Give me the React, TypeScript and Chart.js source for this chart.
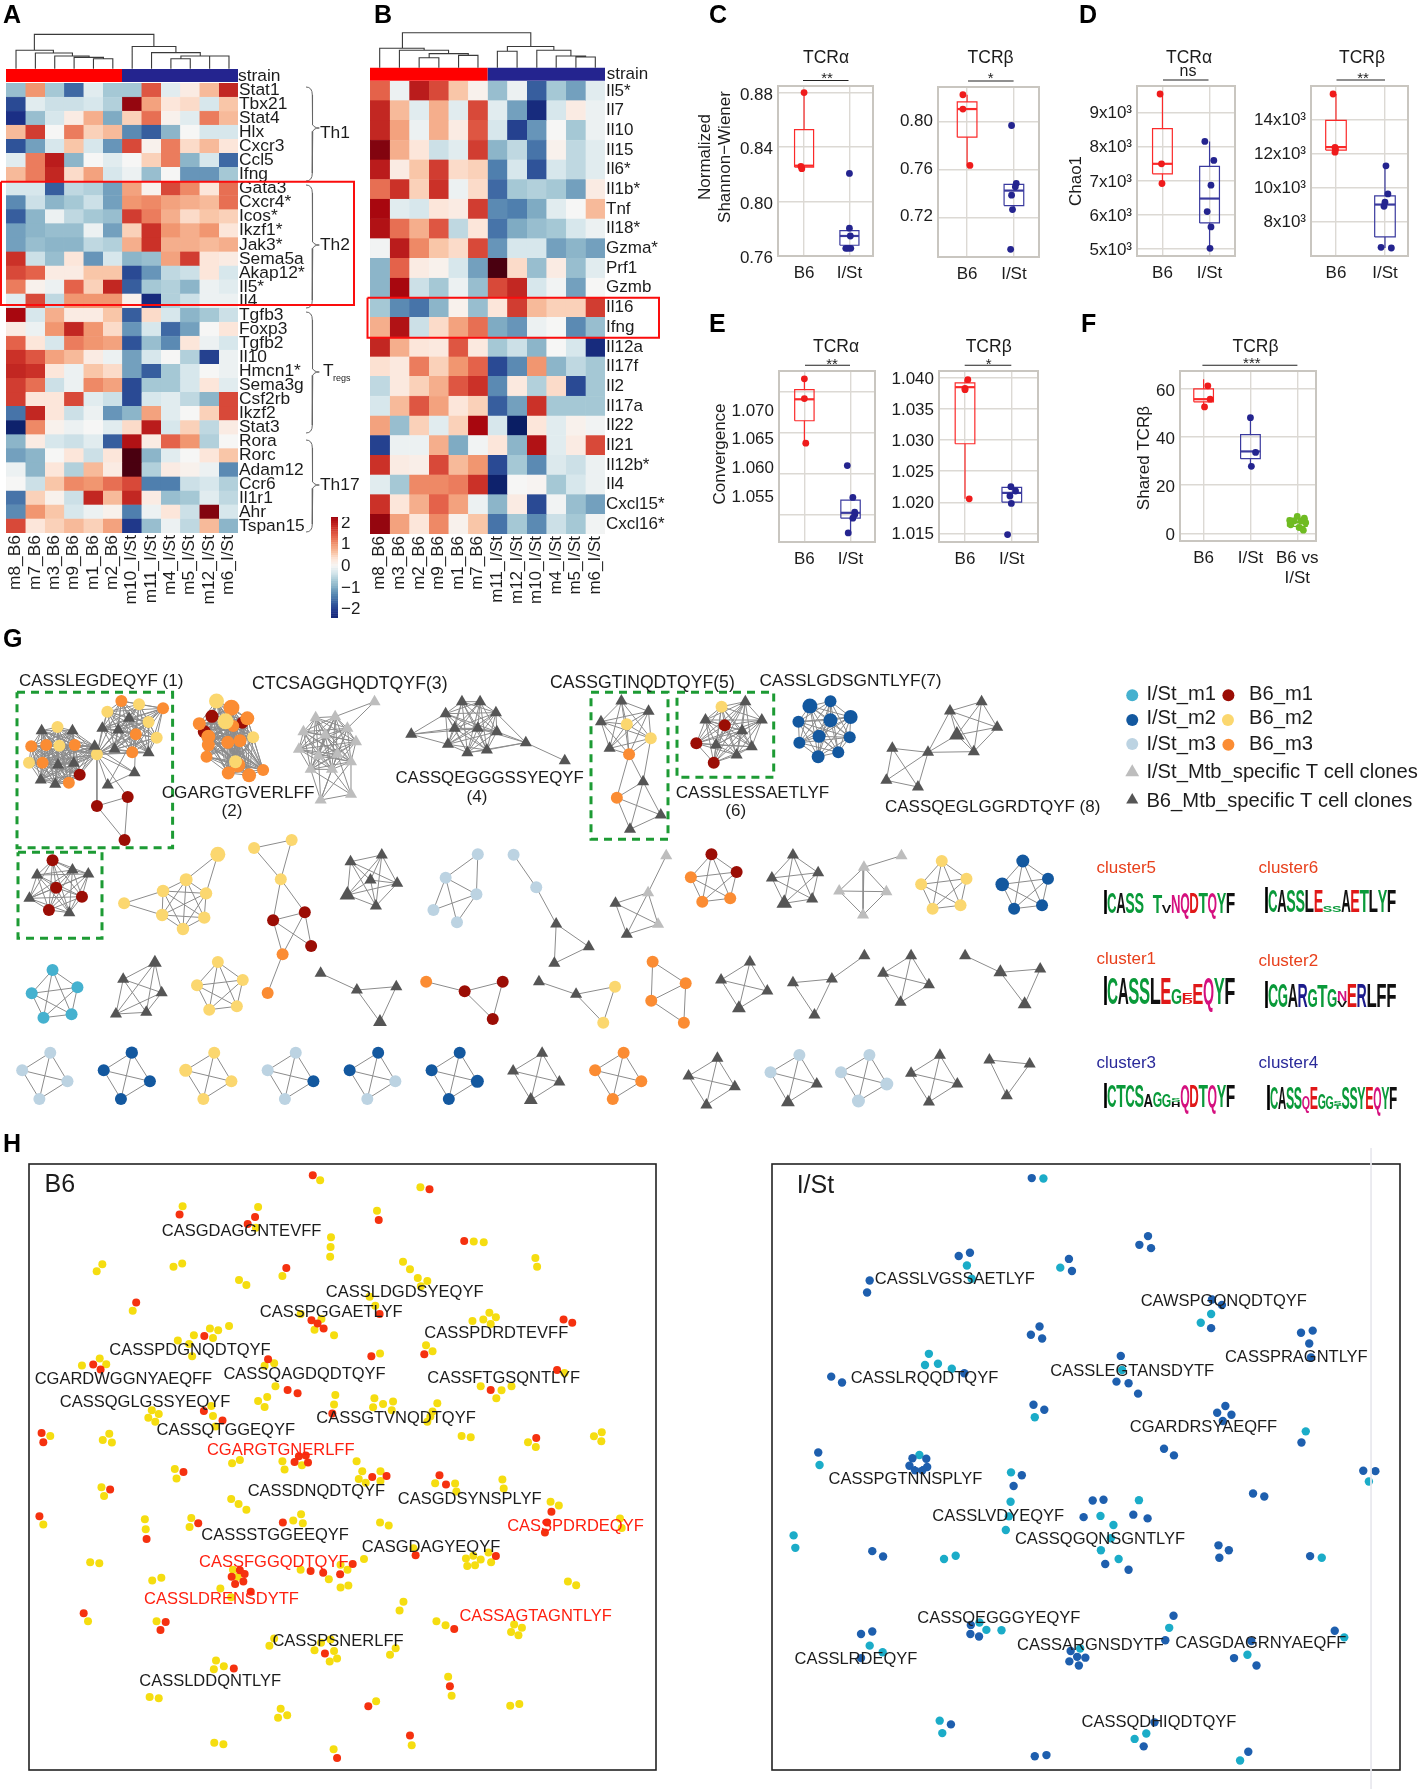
import React, { useEffect, useRef } from "react";
import { Chart, registerables } from "chart.js";
Chart.register(...registerables);

const FONT = '"Liberation Sans", Arial, sans-serif';
const INK = "#1c1c1c";

/* ---------- heatmaps ---------- */
const samplesA = ["m8_B6","m7_B6","m3_B6","m9_B6","m1_B6","m2_B6","m10_I/St","m11_I/St","m4_I/St","m5_I/St","m12_I/St","m6_I/St"];
const samplesB = ["m8_B6","m3_B6","m2_B6","m9_B6","m1_B6","m7_B6","m11_I/St","m12_I/St","m10_I/St","m4_I/St","m5_I/St","m6_I/St"];
const genesA = ["Stat1","Tbx21","Stat4","Hlx","Cxcr3","Ccl5","Ifng","Gata3","Cxcr4*","Icos*","Ikzf1*","Jak3*","Sema5a","Akap12*","Il5*","Il4","Tgfb3","Foxp3","Tgfb2","Il10","Hmcn1*","Sema3g","Csf2rb","Ikzf2","Stat3","Rora","Rorc","Adam12","Ccr6","Il1r1","Ahr","Tspan15"];
const genesB = ["Il5*","Il7","Il10","Il15","Il6*","Il1b*","Tnf","Il18*","Gzma*","Prf1","Gzmb","Il16","Ifng","Il12a","Il17f","Il2","Il17a","Il22","Il21","Il12b*","Il4","Cxcl15*","Cxcl16*"];
const rowsA = [
[-0.8,1.0,-0.7,-1.6,-0.2,-0.7,-0.7,1.5,-0.2,0.2,0.7,1.9],
[-1.9,-0.2,-0.4,-0.4,-0.3,-0.6,2.3,0.9,0.3,0.4,-0.3,0.6],
[-2.2,-0.8,-0.3,0.2,0.8,-1.0,0.5,1.3,0.1,-0.2,1.2,0.7],
[0.7,1.7,0.0,1.2,0.5,0.7,-1.3,-1.7,-0.9,0,-0.3,-0.3],
[-1.8,-1.1,-0.3,0.6,-0.3,-1.2,1.6,0.1,1.2,0.4,0.7,0.3],
[-0.2,1.2,2.0,-0.9,0,-0.2,0,0.5,1.2,-0.9,-0.3,-1.6],
[0.7,1.2,1.9,0.4,0.9,-0.3,-0.1,-0.8,0,-1.2,-1.2,-0.7],
[-0.3,-0.3,-1.7,-0.5,-0.6,-1.1,0.9,0.1,1.6,1.1,0.3,1.3],
[-1.3,-0.4,-0.9,-0.7,-0.4,-1.1,1.0,1.1,0.9,0.8,0.7,1.3],
[-1.7,-0.9,-0.1,-0.5,-0.7,-0.8,1.7,1.2,0.8,0.4,0.6,0.5],
[-1.1,-0.9,-0.8,-0.8,-0.1,-1.1,0.5,1.8,1.0,0.8,1.0,0.3],
[-1.1,-0.8,-0.9,-0.9,-0.5,-0.6,0.8,1.8,0.8,0.8,0.7,0.8],
[1.8,-0.4,-0.8,0.3,-1.2,-0.3,-0.9,-0.8,0.9,1.7,0.3,0.2],
[1.6,1.4,0.2,0.2,0.6,0.6,-1.9,-1.2,-0.5,-0.4,0.3,-0.3],
[1.2,0.1,-0.1,1.4,0.5,1.9,-1.7,-0.7,-0.6,-0.9,-0.1,-0.2],
[-0.2,1.6,-0.5,1.0,1.0,1.0,0.1,-2.3,-0.6,-0.4,-0.1,-0.1],
[2.2,-0.3,0.8,0.2,0.2,0.6,-1.7,0.4,-0.3,-0.9,-0.7,-0.4],
[0.2,-0.1,1.0,1.9,1.0,0.4,-1.2,-0.3,-1.6,-1.1,0,0.3],
[1.4,0.3,-0.3,1.2,1.0,0.9,-1.8,-0.8,-1.3,0.3,-0.1,-0.3],
[1.8,1.5,0.9,0.7,0.2,-0.1,-1.1,-0.3,0,-0.6,-2.0,-0.1],
[1.9,1.8,0.3,-0.1,0.6,0.4,-1.1,-1.7,-0.7,-0.3,0,-0.1],
[1.7,1.3,-0.4,-0.1,1.1,0.9,-1.9,-0.7,-0.7,-0.3,0.3,-0.2],
[1.7,0.3,0.3,1.6,-0.2,-0.4,-1.9,-0.3,-0.2,-0.5,-0.9,1.6],
[-1.5,1.9,0.3,-0.4,-0.1,-1.2,-0.9,0.9,-0.2,0,0.5,1.6],
[-2.5,1.1,0.1,-0.1,0,-0.2,0.4,2.0,-0.3,0.5,-0.5,0.2],
[-0.9,0.2,-0.3,-0.4,-0.2,-1.7,2.1,0.2,1.4,1.0,-0.6,0],
[-1.1,-0.9,0,0.3,-0.4,0.3,2.7,-0.9,-0.2,0,0.3,0.6],
[-0.1,-0.9,0.3,-0.6,0.7,0.2,2.7,-0.6,0.2,0.1,-0.1,-1.3],
[0,-0.4,0.6,1.1,1.0,1.3,1.6,-1.4,-1.4,-0.4,-0.3,-0.6],
[-1.5,0.5,0.1,-0.4,1.9,0.7,1.9,0.2,-0.8,-0.7,-0.2,-0.5],
[-1.3,1.0,0.6,-0.3,-0.1,0.1,-1.4,-0.1,0.3,-0.4,2.4,-0.3],
[1.6,0.3,0.5,0.7,0.5,0.9,-2.1,-0.8,-0.1,-0.5,0.7,-0.9],
];
const rowsB = [
[1.4,-0.1,2.0,1.6,0.6,0.1,-0.8,-0.1,-1.7,-0.7,-1.1,-0.2],
[1.9,0.7,-0.2,0.8,-0.2,1.6,-0.2,-1.1,-2.3,-0.3,0.2,-0.1],
[1.9,0.9,-0.1,0.8,0.2,1.5,-0.3,-2.0,-1.2,0,-0.7,-0.1],
[2.4,0.8,0.3,-0.4,-0.2,1.7,-0.9,-0.5,-1.5,0.1,-0.5,-0.2],
[2.0,0.2,0.6,1.7,0.4,0.5,-1.4,-0.3,-1.8,-0.3,-0.5,-0.2],
[1.3,1.8,0.5,1.8,-0.1,0.4,-1.6,-0.7,-0.6,-0.7,-1.1,0.2],
[2.2,-0.2,-0.3,0.3,0.2,1.7,-1.3,-1.4,-1.0,-0.2,0,0.7],
[2.1,1.3,0.8,1.5,-0.5,0.3,-1.5,-1,-0.8,-0.7,-0.3,-0.1],
[-0.05,2.0,1.1,0.6,0.4,1.6,-1.2,-0.3,-0.3,-1.1,-0.9,-1.1],
[-0.9,1.4,0.2,0.1,-0.3,-1.1,2.7,0.4,-0.8,0.2,-0.8,-0.2],
[-0.9,2.2,-0.4,-0.7,-0.1,-0.8,1.6,1.9,-0.3,-0.05,-1.1,0],
[-0.7,-1.3,-1.5,-0.9,0.1,-0.8,0.3,1.7,0.7,0.5,0.5,1.7],
[0.8,2.1,-0.4,0.4,0.9,1.3,-1.0,-1.2,-0.1,0,-1.3,-0.8],
[1.9,0.8,0.3,0.25,1.5,0.25,-0.7,-0.4,-0.9,0,-0.3,-2.3],
[0.35,0.25,1.2,0.5,1.0,1.4,-1.9,-1.3,1.0,-0.9,-0.5,-0.7],
[-0.5,0.25,0.5,0.8,1.5,1.8,-1.3,0.25,-0.6,0.4,-1.9,-0.7],
[-0.3,0.7,1.5,0.9,0.3,0.5,-1.7,-1.1,1.8,-0.7,-0.7,-0.7],
[0.9,-0.8,0.5,-0.2,0.5,2.2,-0.3,-2.6,0.3,-0.2,0.1,-0.05],
[-2.0,-0.1,-0.1,0.8,-1.0,-0.05,0.3,-0.9,2.1,-0.2,0.2,1.6],
[1.8,0.2,0.15,1.6,0.7,1.0,-1.9,-0.7,-1.3,-0.25,-0.4,-0.1],
[-0.2,-0.7,1.1,1.1,1.2,1.8,-2.5,0,0.05,-0.7,-0.3,-0.1],
[1.8,0.3,0.8,1.4,0.9,-0.1,-0.9,0.2,-1.9,-0.05,-0.8,-1.1],
[2.3,0.9,0.3,1.1,0.1,0.6,-1.5,-0.7,-1.3,-0.4,-0.7,-0.05],
];
const colorbarTicks = [-2,-1,0,1,2];
// dendrogram links: left x, left foot, right x, right foot, top (units of the tree's own frame)
const dendroA = [[101,150,459,139,103],[46,205,158,158,150],[104,205,215,167,158],[162,205,265,171,167],[220,205,308,175,171],[278,205,336,205,175],[394,205,525,157,139],[452,205,598,167,157],[540,175,655,167,167],[510,205,568,205,175],[626,205,684,205,167]];
const dendroB = [[127,144,511,139,98],[59,202,192,150,144],[118,202,265,160,150],[207,172,324,165,160],[177,202,236,202,172],[295,202,353,202,165],[441,153,580,150,139],[411,202,470,202,153],[529,202,631,167,150],[587,202,675,170,167],[646,202,704,202,170]];

/* ---------- box plots: [q1, median, q3, low, high] and points [x, y] ---------- */
const cAlphaB6Box = [0.8253,0.8263,0.8528,0.825,0.88];
const cAlphaB6Pts = [[1,0.88],[0.93,0.8258],[0.95,0.8241]];
const cAlphaIStBox = [0.7679,0.7747,0.7787,0.7656,0.7804];
const cAlphaIStPts = [[2,0.8206],[2,0.7804],[2.02,0.7747],[1.92,0.7656],[2.03,0.7656],[1.97,0.7656]];
const cBetaB6Box = [0.7874,0.811,0.817,0.7637,0.823];
const cBetaB6Pts = [[0.91,0.823],[0.91,0.811],[1.06,0.7637]];
const cBetaIStBox = [0.73,0.7426,0.7478,0.7267,0.7486];
const cBetaIStPts = [[1.95,0.7972],[2.05,0.7486],[2.03,0.7458],[1.95,0.7388],[1.97,0.7267],[1.93,0.6933]];
const dAlphaB6Box = [7206,7500,8530,6922,9549];
const dAlphaB6Pts = [[0.95,9549],[0.98,7500],[0.99,6922]];
const dAlphaIStBox = [5765,6480,7422,5020,8157];
const dAlphaIStPts = [[1.9,8157],[2.09,7598],[2.03,6873],[1.95,6098],[2.03,5647],[2.01,5020]];
const dBetaB6Box = [12196,12373,13940,12078,15490];
const dBetaB6Pts = [[0.94,15490],[0.98,12353],[0.99,12235],[0.98,12078]];
const dBetaIStBox = [7098,9000,9510,6450,11274];
const dBetaIStPts = [[2.02,11274],[2.06,9627],[2,9137],[1.98,8900],[1.92,6490],[2.13,6450]];
const eAlphaB6Box = [1.06645,1.06906,1.07024,1.06372,1.07155];
const eAlphaB6Pts = [[1,1.07155],[1,1.06914],[1.03,1.06372]];
const eAlphaIStBox = [1.0546,1.05525,1.0568,1.0528,1.0571];
const eAlphaIStPts = [[1.93,1.061],[2.05,1.05712],[2.09,1.05533],[2.09,1.055],[2.05,1.0546],[1.95,1.0528]];
const eBetaB6Box = [1.0294,1.0385,1.0392,1.02055,1.0397];
const eBetaB6Pts = [[1.06,1.0397],[1,1.0383],[1,1.0381],[1.09,1.02055]];
const eBetaIStBox = [1.02,1.0215,1.0224,1.0198,1.0225];
const eBetaIStPts = [[1.98,1.0225],[2.08,1.0218],[1.96,1.021],[1.99,1.0198],[1.91,1.0148]];
const fB6Box = [54.6,55.7,60,52.5,64];
const fB6Pts = [[1.09,61.25],[1.14,55.7],[1.02,52.5]];
const fIStBox = [31,34,41,27.8,48];
const fIStPts = [[2,48],[2.11,33.6],[2.02,27.8]];
const fBothBox = [2.9,4.6,6.25,1.5,7];
const fBothPts = [[2.86,3.5],[3,7],[3.15,6.3],[3.04,2.4],[3.13,1.3],[2.93,5.1],[3.18,4.4],[2.84,5.4],[3.08,5.1]];

/* ---------- clone networks: nodes [x, y, kind, radius?] in the units of their crop ---------- */
const seq = (a: number, b: number) => Array.from({ length: b - a + 1 }, (_, i) => a + i);
const U7 = [0, 620, 2.208, 3], U8 = [700, 640, 2.184, 3], U9 = [0, 930, 2.208, 3], U10 = [700, 940, 2.184, 3];
const K4 = [[0, 1, 2, 3]];
const networks: any[] = [
{u:U7,c:[seq(0,16),seq(16,29)],e:[[16,30],[16,31],[16,33],[16,32],[30,31],[7,30],[25,30],[25,31],[33,32],[32,34],[33,34]],n:[[92,332,"g"],[127,321,"y"],[160,332,"g"],[69,379,"o"],[102,375,"o"],[131,377,"y"],[165,375,"o"],[209,379,"g"],[64,428,"y"],[94,428,"o"],[128,435,"g"],[163,430,"g"],[176,464,"r"],[90,480,"g"],[122,493,"g"],[152,488,"o"],[214,403,"y"],[268,243,"o"],[307,253,"y"],[360,265,"o"],[237,275,"y"],[285,295,"g"],[328,306,"y"],[226,325,"g"],[261,330,"g"],[300,343,"o"],[346,353,"y"],[253,388,"g"],[292,397,"o"],[328,398,"g"],[297,458,"g"],[238,495,"g"],[282,531,"r"],[214,558,"r"],[275,660,"r"]]},
{u:U7,c:[seq(0,19)],n:[[478,243,"y",7.5],[511,263,"o",8],[468,289,"r",6.5],[546,295,"o",7],[440,311,"o",6.5],[498,304,"y",8],[515,318,"o",6],[535,308,"r",6],[451,335,"r",6.5],[460,350,"o",7],[503,367,"o",6.5],[530,362,"o",6.5],[559,352,"y",6],[460,375,"o",6.5],[456,410,"o",6],[520,425,"y",6.5],[525,435,"o",7.5],[504,459,"o",6.5],[550,466,"o",7],[581,450,"o",6]]},
{u:U7,c:[seq(1,12)],e:[[0,2],[0,4],[13,11],[13,12],[13,8],[13,9],[13,10],[14,12],[14,10],[14,9],[14,11],[13,14]],n:[[827,245,"l"],[697,293,"l"],[740,290,"l"],[670,335,"l"],[767,325,"l"],[718,345,"l"],[786,365,"l"],[660,388,"l"],[703,408,"l"],[745,403,"l"],[775,425,"l"],[686,448,"l"],[733,448,"l"],[708,540,"l"],[775,523,"l"]]},
{u:U7,c:[seq(0,9)],e:[[10,2],[10,4],[10,7],[10,5],[11,3],[11,6],[11,8],[11,9],[11,5],[11,12]],n:[[1020,245,"g"],[1060,245,"g"],[984,281,"g"],[1095,278,"g"],[1004,325,"g"],[1055,325,"g"],[1097,335,"g"],[989,373,"g"],[1032,398,"g"],[1075,390,"g"],[908,343,"g"],[1161,368,"g"],[1247,422,"g"]]},
{u:U7,c:[seq(0,6)],e:[[6,7],[6,8],[7,8],[7,9],[7,10],[8,9],[8,10],[9,10],[4,7]],n:[[1372,243,"g"],[1432,274,"g"],[1327,305,"g"],[1384,313,"y"],[1437,355,"y"],[1346,385,"g"],[1389,403,"o"],[1420,485,"g"],[1362,533,"o"],[1459,585,"g"],[1391,628,"g"]]},
{u:U8,c:[seq(0,10)],n:[[47,200,"y"],[99,185,"g"],[12,240,"g"],[54,256,"r"],[135,240,"g"],[92,272,"g"],[-8,310,"r"],[35,315,"g"],[113,320,"g"],[80,345,"g"],[30,368,"r"]]},
{u:U8,c:[seq(0,9)],n:[[240,198,"b",7.5],[285,184,"b"],[215,245,"b"],[285,241,"b",7],[329,231,"b",7],[260,289,"b",6.5],[327,292,"b"],[217,308,"b"],[302,337,"b"],[258,350,"b",6.5]]},
{u:U8,e:[[0,1],[0,2],[0,3],[0,5],[1,2],[1,3],[1,5],[2,3],[2,5],[3,5],[1,4],[3,4],[4,5],[4,6],[4,7],[4,8],[6,7],[6,8],[7,8]],n:[[615,185,"g"],[546,213,"g"],[649,262,"g"],[561,285,"g",9],[498,337,"g"],[598,335,"g"],[420,325,"g"],[407,421,"g"],[476,441,"g"]]},
{u:U7,c:[seq(0,8)],n:[[116,721,"r"],[82,765,"g"],[160,750,"g"],[195,762,"g"],[124,803,"r"],[65,835,"g"],[181,830,"r"],[108,870,"r"],[153,878,"g"]]},
{u:U7,c:[[1,2,3,5,6,7]],e:[[0,1],[0,3],[4,2],[4,5]],n:[[481,703,"y",7.5],[411,779,"y",6.5],[360,813,"y",6.2],[455,820,"y",6.2],[274,850,"y"],[358,885,"y",6.2],[451,893,"y",6.2],[404,927,"y",6.2]]},
{u:U7,e:[[0,1],[1,2],[0,2],[2,3],[2,4],[3,4],[3,5],[4,5],[4,6],[3,6],[6,7]],n:[[561,684,"y"],[644,660,"y"],[620,778,"y"],[673,877,"r"],[603,901,"r"],[687,978,"r"],[624,1003,"o"],[591,1119,"o"]]},
{u:U7,c:[seq(0,5)],n:[[774,725,"g"],[843,705,"g"],[818,780,"g"],[877,790,"g"],[767,825,"g",9],[830,858,"g"]]},
{u:U7,e:[[0,1],[0,2],[1,2],[1,3],[1,4],[2,3],[2,4]],n:[[1055,703,"p"],[984,773,"p"],[1052,823,"p"],[957,870,"p"],[1009,907,"p"]]},
{u:U7,e:[[0,1],[1,2],[2,3],[2,4],[3,4]],n:[[1134,704,"p"],[1184,802,"p"],[1228,912,"g"],[1300,980,"g"],[1224,1030,"g"]]},
{u:U7,e:[[0,1],[1,2],[1,3],[1,4],[2,3],[2,4],[3,4]],n:[[1471,707,"l"],[1431,818,"l"],[1359,850,"g"],[1453,913,"l"],[1384,943,"g"]]},
{u:U8,c:[seq(0,4)],n:[[25,643,"r"],[80,696,"r"],[66,775,"o"],[5,785,"o"],[-20,712,"o"]]},
{u:U8,c:[seq(0,4)],n:[[203,645,"g"],[258,698,"g"],[157,714,"g"],[245,777,"g"],[184,790,"g",9]]},
{u:U8,e:[[0,1],[1,2],[1,3],[1,4],[2,3],[2,4],[3,4]],n:[[440,647,"l"],[358,682,"l"],[407,755,"l"],[304,753,"l"],[356,825,"l"]]},
{u:U8,c:[seq(0,4)],n:[[528,663,"y"],[582,716,"y"],[483,733,"y"],[569,796,"y"],[508,806,"y"]]},
{u:U8,c:[seq(0,4)],n:[[705,663,"b",6.5],[760,716,"b"],[660,733,"b",6.8],[747,796,"b"],[686,806,"b"]]},
{u:U9,c:[seq(0,4)],n:[[116,120,"t"],[171,172,"t"],[70,190,"t"],[158,253,"t"],[96,263,"t"]]},
{u:U9,c:[seq(0,4)],n:[[342,98,"g",8],[272,148,"g"],[357,188,"g"],[256,252,"g"],[323,247,"g"]]},
{u:U9,c:[seq(0,4)],n:[[481,96,"y"],[536,150,"y"],[435,166,"y"],[523,229,"y"],[462,239,"y"]]},
{u:U9,e:[[0,1],[1,2],[1,3],[2,3]],n:[[708,130,"g"],[788,180,"g"],[875,170,"g"],[839,276,"g",8]]},
{u:U9,e:[[0,1],[1,2],[1,3],[2,3]],n:[[941,155,"o"],[1026,184,"r"],[1110,155,"r"],[1088,267,"r"]]},
{u:U9,e:[[0,1],[1,2],[1,3],[2,3]],n:[[1190,155,"g"],[1272,193,"g"],[1358,170,"y"],[1332,278,"y"]]},
{u:U9,e:[[0,1],[0,2],[1,2],[1,3],[2,3]],n:[[1441,95,"o"],[1514,160,"o"],[1438,212,"o"],[1510,278,"o"]]},
{u:U10,c:K4,n:[[109,66,"g"],[46,120,"g"],[147,153,"g"],[85,205,"g",8]]},
{u:U10,e:[[0,1],[1,2],[1,3],[2,3]],n:[[359,47,"g"],[288,117,"g"],[203,128,"g"],[250,225,"g"]]},
{u:U10,c:K4,n:[[461,47,"g"],[400,100,"g"],[500,134,"g"],[438,187,"g"]]},
{u:U10,e:[[0,1],[1,2],[1,3],[2,3]],n:[[579,47,"g"],[656,97,"g",8],[743,87,"g"],[709,193,"g",8]]},
{u:U9,c:K4,n:[[111,368,"p"],[49,421,"p"],[149,454,"p"],[87,507,"p"]]},
{u:U9,c:K4,n:[[291,368,"b",6.2],[229,421,"b"],[331,454,"b"],[267,507,"b"]]},
{u:U9,c:K4,n:[[473,368,"y"],[410,421,"y",6.5],[511,454,"y"],[449,507,"y"]]},
{u:U9,c:K4,n:[[653,368,"p"],[591,421,"p"],[692,454,"b"],[629,507,"p"]]},
{u:U9,c:K4,n:[[835,368,"b"],[772,421,"b"],[873,454,"p"],[811,507,"p"]]},
{u:U9,c:K4,n:[[1015,368,"b"],[953,421,"b"],[1054,454,"b",6.5],[991,507,"b"]]},
{u:U9,c:K4,n:[[1197,370,"g"],[1133,423,"g"],[1235,456,"g"],[1172,510,"g",8]]},
{u:U9,c:K4,n:[[1377,368,"o"],[1314,421,"o"],[1416,454,"o"],[1353,507,"o"]]},
{u:U10,c:K4,n:[[38,355,"g"],[-25,408,"g"],[76,440,"g"],[14,495,"g"]]},
{u:U10,c:K4,n:[[217,345,"p"],[154,397,"p"],[255,432,"g"],[192,487,"g",8]]},
{u:U10,c:K4,n:[[370,345,"p"],[308,397,"p"],[408,432,"p",6.5],[346,483,"p",6.5]]},
{u:U10,c:K4,n:[[524,346,"g"],[461,400,"g"],[562,432,"g"],[500,486,"g"]]},
{u:U10,c:[[0,1,2]],n:[[632,360,"g"],[720,372,"g"],[670,467,"g"]]},
];
const legendMarks: any[] = [[944,166,"t"],[1154,166,"r"],[944,240,"b"],[1153,240,"y"],[944,312,"p"],[1154,314,"o"],[944,397,"l",8],[944,480,"g",7]];
const kindColor: Record<string,string> = {t:"#45b1cf",b:"#13589f",p:"#bcd3e2",r:"#9b0d05",y:"#fbd76f",o:"#fb8c33",l:"#bdbdbd",g:"#555555"};

/* ---------- sequence logos ---------- */
const logoCols: Record<string,string> = {C:"#0a9a3a",G:"#0a9a3a",S:"#0a9a3a",T:"#0a9a3a",Y:"#0a9a3a",A:"#111",L:"#111",F:"#111",V:"#111",E:"#e01818",D:"#e01818",Q:"#d5107f",N:"#d5107f",R:"#1c1c8c"};
const logo5 = "C A S S - T:.9 V:.4 N:.9 Q D T Q Y F";
const logo6 = "C A S S L E S:.3 S:.3 A E T L Y F";
const logo1 = "C A S S L E G:.6 D:.2,E:.25 E:.8 Q Y F";
const logo2 = "C G A R G:.75 T:.95 G:.8 V:.25,N:.45 E R L F F";
const logo3 = "C T C S A:.6 G:.75 G:.6 H:.25,S:.2 Q D T Q Y F";
const logo4 = "C A S S Q:.6 E G:.75 G:.6 T:.2,S:.2 S S Y E Q Y F";
const logoTable: [string, number, number, number, number][] = [
  [logo5,1107,1235,892,913],[logo6,1268,1396,889,912],[logo1,1107,1235,978,1004],[logo2,1268,1396,983,1007],[logo3,1107,1235,1085,1107],[logo4,1270,1397,1087,1109],
];

/* ---------- panel H ---------- */
const b6Red = [[721,85],[990,119],[414,180],[588,186],[571,203],[873,193],[1070,244],[660,309],[314,392],[875,420],[718,435],[732,443],[746,455],[1299,433],[1319,441],[471,473],[856,522],[978,517],[618,529],[215,542],[232,554],[1284,555],[1131,603],[663,603],[686,611],[470,654],[766,660],[513,677],[96,707],[100,729],[1236,719],[689,763],[705,761],[679,777],[710,778],[423,801],[858,813],[891,811],[1013,809],[1028,831],[254,843],[1271,897],[91,908],[457,925],[652,923],[1261,923],[1256,947],[338,963],[958,1002],[1143,1004],[813,1023],[716,1040],[745,1044],[784,1048],[553,1038],[534,1054],[564,1047],[561,1065],[542,1071],[578,1090],[193,1142],[382,1163],[370,1182],[1047,1180],[749,1239],[539,1275],[1037,1318],[849,1366],[945,1437],[777,1491]];
const b6Yellow = [[738,97],[969,114],[421,160],[595,162],[869,171],[590,212],[763,235],[1092,245],[1115,247],[762,258],[761,282],[236,300],[223,317],[420,298],[400,306],[929,294],[945,312],[1234,285],[1238,306],[963,333],[985,340],[970,353],[551,338],[568,350],[651,328],[852,378],[306,412],[865,400],[693,420],[741,432],[1128,417],[1089,437],[1114,433],[1143,428],[1131,444],[725,458],[770,471],[528,449],[484,455],[503,459],[447,471],[491,478],[410,484],[436,492],[982,495],[997,510],[876,515],[443,522],[230,527],[245,541],[189,544],[632,539],[610,545],[1301,562],[635,594],[1108,594],[1156,604],[1179,594],[1144,623],[616,620],[595,630],[610,644],[773,615],[770,638],[863,623],[906,631],[883,637],[860,645],[903,652],[1008,635],[997,655],[992,667],[985,680],[487,642],[350,652],[366,661],[342,670],[358,680],[491,666],[497,691],[116,714],[252,709],[237,724],[258,730],[1064,714],[1085,717],[1217,729],[1235,741],[1387,705],[1369,715],[1386,727],[535,780],[553,772],[651,775],[656,795],[696,785],[822,775],[835,799],[877,799],[827,818],[843,827],[877,823],[403,794],[407,817],[234,838],[240,859],[1003,828],[1049,829],[1052,848],[1158,819],[1161,841],[533,866],[550,878],[568,892],[1269,873],[1288,882],[1429,913],[1433,936],[441,912],[437,934],[100,928],[334,915],[336,939],[694,903],[676,918],[698,925],[876,923],[896,930],[1126,995],[1074,1010],[1091,1003],[1108,1012],[1077,1028],[1095,1026],[1132,1019],[953,985],[839,1011],[208,1019],[229,1021],[785,1025],[801,1037],[693,1037],[758,1060],[548,1054],[537,1037],[351,1063],[372,1056],[508,1082],[533,1103],[785,1080],[803,1075],[1309,1065],[1328,1074],[930,1114],[921,1135],[203,1161],[361,1161],[1006,1161],[1027,1171],[1185,1169],[1203,1177],[1178,1187],[1195,1195],[632,1203],[621,1220],[740,1213],[762,1205],[725,1231],[770,1233],[777,1251],[760,1258],[912,1226],[899,1242],[498,1256],[493,1277],[516,1270],[1033,1295],[1041,1341],[345,1344],[366,1347],[867,1354],[1176,1365],[1197,1361],[647,1372],[641,1394],[662,1388],[494,1454],[515,1458],[769,1470],[949,1460]];
const istDark = [[675,92],[944,232],[924,253],[951,261],[506,280],[532,272],[761,287],[768,316],[300,339],[294,368],[1092,385],[1115,398],[1090,454],[693,450],[673,470],[699,479],[1298,465],[1325,460],[1317,491],[1321,525],[881,521],[211,571],[236,585],[519,563],[871,583],[899,587],[921,612],[679,639],[704,651],[1123,642],[1104,658],[1137,663],[1117,678],[181,754],[981,745],[1004,761],[1299,730],[399,768],[431,769],[392,786],[433,789],[405,797],[422,797],[1442,798],[1470,799],[652,809],[633,835],[816,870],[841,868],[795,910],[910,904],[943,913],[1187,853],[1213,860],[306,992],[331,1005],[1107,978],[1131,990],[1109,1008],[1319,1004],[845,1023],[899,1037],[1003,1148],[534,1170],[533,1192],[553,1198],[306,1186],[280,1192],[280,1250],[984,1207],[1183,1209],[1376,1184],[765,1233],[780,1247],[799,1249],[762,1258],[784,1268],[1143,1250],[1195,1268],[959,1405],[488,1410],[934,1463],[682,1487],[709,1484],[1176,1476]];
const istTeal = [[702,93],[525,303],[741,308],[536,335],[1090,420],[1066,441],[437,516],[458,540],[428,543],[490,552],[884,555],[682,669],[1309,703],[184,784],[415,760],[627,802],[626,873],[1455,824],[923,869],[834,907],[622,908],[864,929],[615,941],[858,961],[124,954],[128,984],[835,990],[876,1011],[472,1011],[499,1003],[1346,1008],[993,1177],[554,1164],[570,1182],[605,1183],[300,1220],[330,1236],[787,1227],[1174,1242],[1398,1200],[462,1401],[468,1431],[913,1445],[940,1432],[1157,1497]];
const b6Labels: [string,number,number][] = [["CASGDAGGNTEVFF",373,218],["CASSLDGDSYEQYF",751,366],["CASSPGGAETLYF",599,413],["CASSPDRDTEVFF",978,465],["CASSPDGNQDTQYF",252,505],["CGARDWGGNYAEQFF",80,575],["CASSQAGDQDTQYF",515,563],["CASSFTGSQNTLYF",985,572],["CASSQGLGSSYEQYF",138,630],["CASSQTGGEQYF",361,699],["CASSGTVNQDTQYF",729,670],["CASSDNQDTQYF",571,846],["CASGDSYNSPLYF",917,864],["CASSSTGGEEQYF",464,951],["CASGDAGYEQYF",834,981],["CASSPSNERLFF",628,1208],["CASSLDDQNTLYF",321,1303]];
const b6RedLabels: [string,number,number][] = [["CGARGTGNERLFF",477,746],["CASSPDRDEQYF",1169,931],["CASSFGGQDTQYF",459,1017],["CASSLDRENSDYTF",332,1105],["CASSAGTAGNTLYF",1059,1146]];
const istLabels: [string,number,number][] = [["CASSLVGSSAETLYF",312,335],["CAWSPGQNQDTQYF",927,388],["CASSPRAGNTLYF",1122,523],["CASSLEGTANSDYTF",718,556],["CASSLRQQDTQYF",256,573],["CGARDRSYAEQFF",902,691],["CASSPGTNNSPLYF",205,816],["CASSLVDYEQYF",445,906],["CASSQGQNSGNTLYF",636,961],["CASSQEGGGYEQYF",410,1151],["CASSARGNSDYTF",641,1217],["CASGDAGRNYAEQFF",1007,1212],["CASSLRDEQYF",126,1252],["CASSQDHIQDTQYF",790,1402]];

/* ---------- page annotations: text, x, y, options ---------- */
type Note = { t: string; x: number; y: number; s?: number; b?: boolean; c?: string; a?: CanvasTextAlign; rot?: number };
const LEFT90 = -Math.PI / 2;
const pageNotes: Note[] = [
  ...([["A",3,15],["B",374,15],["C",709,15],["D",1079,15],["E",709,324],["F",1081,324],["G",3,639],["H",3,1144]] as [string,number,number][]).map(([t,x,y]) => ({t,x,y,s:25,b:true,c:"#000"})),
  {t:"strain",x:238,y:75,s:17.4},{t:"strain",x:606.7,y:73,s:17},
  {t:"Th1",x:320,y:132,s:17.4},{t:"Th2",x:320,y:244,s:17.4},{t:"T",x:323,y:370,s:17.4},{t:"regs",x:333,y:378,s:9},{t:"Th17",x:320,y:484,s:17.4},
  {t:"TCRα",x:826,y:57,s:17.5,a:"center"},{t:"TCRβ",x:990.6,y:57,s:17.5,a:"center"},{t:"TCRα",x:1189,y:57,s:17.5,a:"center"},{t:"TCRβ",x:1362,y:57,s:17.5,a:"center"},
  {t:"TCRα",x:836,y:346,s:17.5,a:"center"},{t:"TCRβ",x:988.7,y:346,s:17.5,a:"center"},{t:"TCRβ",x:1255.5,y:346,s:17.5,a:"center"},
  {t:"**",x:827,y:78,s:15,a:"center"},{t:"*",x:990.6,y:78,s:15,a:"center"},{t:"ns",x:1188,y:71,s:16,a:"center"},{t:"**",x:1363,y:78,s:15,a:"center"},
  {t:"**",x:832,y:364,s:15,a:"center"},{t:"*",x:988.7,y:364,s:15,a:"center"},{t:"***",x:1251.8,y:363,s:15,a:"center"},
  {t:"Normalized",x:705,y:157,s:17,a:"center",rot:LEFT90},{t:"Shannon−Wiener",x:725.6,y:157,s:17,a:"center",rot:LEFT90},
  {t:"Chao1",x:1076.7,y:181,s:17,a:"center",rot:LEFT90},{t:"Convergence",x:720,y:454,s:17,a:"center",rot:LEFT90},{t:"Shared TCRβ",x:1144.5,y:458,s:17,a:"center",rot:LEFT90},
  {t:"CASSLEGDEQYF (1)",x:19,y:680.7,s:17},{t:"CTCSAGGHQDTQYF(3)",x:252,y:683.3,s:17.7},{t:"CGARGTGVERLFF",x:161.7,y:792.7,s:17.2},{t:"(2)",x:232,y:810.7,s:17,a:"center"},
  {t:"CASSQEGGGSSYEQYF",x:395.4,y:777.7,s:16.8},{t:"(4)",x:477,y:796.7,s:17,a:"center"},{t:"CASSGTINQDTQYF(5)",x:550,y:681.7,s:17.6},{t:"CASSLGDSGNTLYF(7)",x:759.5,y:680.7,s:17.3},
  {t:"CASSLESSAETLYF",x:675.7,y:792.3,s:17.1},{t:"(6)",x:735.7,y:810.7,s:17,a:"center"},{t:"CASSQEGLGGRDTQYF (8)",x:885,y:806.7,s:17},
  {t:"I/St_m1",x:1146.4,y:693.3,s:20.2},{t:"B6_m1",x:1249,y:693.3,s:20.2},{t:"I/St_m2",x:1146.4,y:717.3,s:20.2},{t:"B6_m2",x:1249,y:717.3,s:20.2},{t:"I/St_m3",x:1146.4,y:743.3,s:20.2},{t:"B6_m3",x:1249,y:743.3,s:20.2},
  {t:"I/St_Mtb_specific T cell clones",x:1146.4,y:771.7,s:20.2},{t:"B6_Mtb_specific T cell clones",x:1146.4,y:800,s:20.2},
  {t:"cluster5",x:1096.5,y:867.7,s:17,c:"#e8401c"},{t:"cluster6",x:1258.6,y:867.7,s:17,c:"#e8401c"},{t:"cluster1",x:1096.5,y:958.3,s:17,c:"#e8401c"},{t:"cluster2",x:1258.6,y:960.7,s:17,c:"#e8401c"},
  {t:"cluster3",x:1096.5,y:1062.7,s:17,c:"#2a2a9a"},{t:"cluster4",x:1258.6,y:1062.7,s:17,c:"#2a2a9a"},
];
const sigBars = [[803,848.5,80.5],[968,1013.6,81],[1163,1208.5,80],[1336.5,1385,80],[805,850,365.3],[964.7,1011.3,365.3],[1202.4,1297.4,365.3]];
const redBoxes = [[1,181.7,354,305],[367.5,297.7,659,337.7]];
const greenBoxes = [[17,692.3,172.6,847.7],[18,852.3,102,938.3],[591,692.3,668,839.3],[677,692.3,773.7,777.3]];
const braces = [[87,128,181],[185,245,308],[312,372,433],[440,485,532]];

/* ---------- helpers ---------- */
const heatStops: [number, string][] = [[-2.7,"#061a5c"],[-2.2,"#1b2f85"],[-1.8,"#2f5399"],[-1.4,"#4f7fae"],[-1.0,"#7fabc3"],[-0.7,"#a5c8d5"],[-0.35,"#d2e4ea"],[0,"#f6f6f5"],[0.3,"#fce6da"],[0.6,"#f9c6a8"],[1.0,"#f19670"],[1.4,"#e4624a"],[1.8,"#cb3128"],[2.2,"#a8070f"],[2.7,"#4a0010"]];
function hexRgb(h: string) { return [1,3,5].map(i => parseInt(h.slice(i,i+2),16)); }
function heatColor(v: number) {
  if (v <= heatStops[0][0]) return heatStops[0][1];
  for (let i = 1; i < heatStops.length; i++) {
    if (v <= heatStops[i][0]) {
      const f = (v - heatStops[i-1][0]) / (heatStops[i][0] - heatStops[i-1][0]);
      const a = hexRgb(heatStops[i-1][1]), b = hexRgb(heatStops[i][1]);
      return `rgb(${a.map((c,k) => Math.round(c + (b[k]-c)*f)).join(",")})`;
    }
  }
  return heatStops[heatStops.length-1][1];
}
const zeroPad = (s: any) => { s.paddingLeft = s.paddingRight = s.paddingTop = s.paddingBottom = 0; };
const fitW = (w: number) => (s: any) => { s.width = w; zeroPad(s); };
const fitH = (h: number) => (s: any) => { s.height = h; zeroPad(s); };
const base = { responsive: false, animation: false as const, events: [] as string[], plugins: { legend: { display: false }, tooltip: { enabled: false } } };
const flatLayout = (padding: any = 0) => ({ autoPadding: false, padding });
const hiddenLinear = (min: number, max: number, reverse = false) => ({ type: "linear", display: false, min, max, reverse });
const font = (size: number, weight = "normal") => ({ family: FONT, size, weight });
const GAP = { x: NaN, y: NaN };
const path = (pts: number[][]) => pts.map(([x, y]) => ({ x, y }));
const lineSet = (data: any[], color: string, width: number, extra: any = {}) => ({ type: "scatter", data, showLine: true, borderColor: color, borderWidth: width, pointRadius: 0, tension: 0, spanGaps: false, clip: false, order: 3, ...extra });
const dotSet = (data: any[], color: string, radius: any, style = "circle", extra: any = {}) => ({ type: "scatter", data, backgroundColor: color, borderWidth: 0, pointBorderWidth: 0, pointRadius: radius, pointStyle: style, clip: false, order: 1, ...extra });

function notesPlugin(items: Note[]) {
  return { id: "notes", afterDatasetsDraw(chart: any) {
    const { ctx, scales } = chart;
    for (const n of items) {
      ctx.save();
      ctx.font = `${n.b ? "bold " : ""}${n.s || 16.5}px ${FONT}`;
      ctx.fillStyle = n.c || INK;
      ctx.textAlign = n.a || "left";
      ctx.textBaseline = "middle";
      ctx.translate(scales.x.getPixelForValue(n.x), scales.y.getPixelForValue(n.y) + (n.rot ? 0 : 1));
      if (n.rot) ctx.rotate(n.rot);
      ctx.fillText(n.t, 0, 0);
      ctx.restore();
    }
  } };
}
const framePlugin = (color: string, width: number) => ({ id: "frame", afterDatasetsDraw(chart: any) {
  const { ctx, chartArea: a } = chart;
  ctx.save(); ctx.strokeStyle = color; ctx.lineWidth = width;
  ctx.strokeRect(a.left, a.top, a.right - a.left, a.bottom - a.top);
  ctx.restore();
} });
const logoPlugin = { id: "logos", afterDatasetsDraw(chart: any) {
  const { ctx, scales } = chart;
  for (const [spec, x0, x1, y0, y1] of logoTable) {
    const cols = spec.split(" ");
    const colW = (scales.x.getPixelForValue(x1) - scales.x.getPixelForValue(x0)) / cols.length;
    const bottom = scales.y.getPixelForValue(y1);
    const H = bottom - scales.y.getPixelForValue(y0);
    cols.forEach((col, i) => {
      if (col === "-") return;
      let yb = bottom;
      for (const part of col.split(",")) {
        const [letter, frac] = part.split(":");
        const h = H * (frac ? parseFloat(frac) : 1);
        ctx.save();
        ctx.font = `bold 100px ${FONT}`;
        ctx.fillStyle = logoCols[letter] || "#111";
        const w = ctx.measureText(letter).width;
        ctx.translate(scales.x.getPixelForValue(x0) + colW * i, yb);
        ctx.scale((colW * 1.04) / w, h / 72);
        ctx.textBaseline = "alphabetic";
        ctx.fillText(letter, 0, 0);
        ctx.restore();
        yb -= h;
      }
    });
  }
} };

/* ---------- chart specs ---------- */
type Spec = { left: number; top: number; width: number; height: number; config: any };

function heatSpec(left: number, top: number, areaW: number, areaH: number, samples: string[], genes: string[], rows: number[][], size: number): Spec {
  const labW = 110, labH = 90;
  return { left, top, width: areaW + labW, height: areaH + labH, config: {
    type: "bar",
    data: { labels: genes, datasets: samples.map((s, c) => ({ label: s, data: genes.map(() => 1), backgroundColor: rows.map(r => heatColor(r[c])), borderColor: rows.map(r => heatColor(r[c])), borderWidth: 0.4, borderSkipped: false, barPercentage: 1, categoryPercentage: 1 })) },
    options: { ...base, indexAxis: "y", layout: flatLayout(),
      scales: {
        x: { type: "linear", stacked: true, display: false, min: 0, max: samples.length },
        y: { type: "category", position: "right", stacked: true, offset: true, grid: { display: false, drawTicks: false }, border: { display: false }, ticks: { autoSkip: false, padding: 1, color: INK, font: font(size) }, afterFit: fitW(labW) },
        sx: { type: "category", axis: "x", position: "bottom", labels: samples, offset: true, grid: { display: false, drawTicks: false }, border: { display: false }, ticks: { autoSkip: false, maxRotation: 90, minRotation: 90, padding: 2, color: INK, font: font(size) }, afterFit: fitH(labH) },
      } } } };
}

function dendroSpec(left: number, width: number, dendro: number[][], xMin: number, xMax: number, strainY: number): Spec {
  const yTop = 30, yBot = 81.3, mid = (xMin + xMax) / 2;
  const links: any[] = [];
  for (const [x1, f1, x2, f2, top] of dendro) links.push(...path([[x1,f1],[x1,top],[x2,top],[x2,f2]]), GAP);
  return { left, top: yTop, width, height: yBot - yTop, config: {
    type: "scatter",
    data: { datasets: [
      lineSet(links, "#3a3a3a", 1.1),
      lineSet(path([[xMin,strainY],[mid,strainY]]), "#ff0000", 13, { borderCapStyle: "butt" }),
      lineSet(path([[mid,strainY],[xMax,strainY]]), "#24248f", 13, { borderCapStyle: "butt" }),
    ] },
    options: { ...base, layout: flatLayout(), scales: { x: hiddenLinear(xMin, xMax), y: hiddenLinear(90, 90 + (yBot - yTop) * 3, true) } } } };
}

function colorbarSpec(): Spec {
  const hi = 2.29, lo = -2.4, step = 0.1;
  const sets: any[] = [];
  for (let v = lo; v < hi; v += step) sets.push(lineSet(path([[0.5,v],[0.5,Math.min(hi, v + step * 1.2)]]), heatColor(v + step / 2), 7, { borderCapStyle: "butt" }));
  return { left: 331, top: 516.7, width: 47, height: 112, config: {
    type: "scatter", data: { datasets: sets },
    options: { ...base, layout: flatLayout({ bottom: 11 }), scales: {
      x: hiddenLinear(0, 1),
      y: { type: "linear", position: "right", min: lo, max: hi, grid: { display: false, drawTicks: false }, border: { display: false },
        ticks: { autoSkip: false, padding: 3, color: INK, font: font(17), callback: (v: number) => String(v).replace("-", "−") },
        afterBuildTicks: (s: any) => { s.ticks = colorbarTicks.map(value => ({ value })); }, afterFit: fitW(40) },
    } } } };
}

type BoxGroup = { box: number[]; pts: number[][]; at: number; line: string; dot: string };
function boxSpec(o: { l: number; t: number; r: number; b: number; xr: number[]; yr: number[]; yt: number[]; fmt: (v: number) => string; groups: BoxGroup[]; cats: string[][]; shift?: number; lab?: { yr: number[]; yt: number[] } }): Spec {
  const labW = 64, labH = 56, pad = 2;
  const sets: any[] = [];
  for (const g of o.groups) {
    const [q1, med, q3, lo, hi] = g.box; const h = 0.21, x = g.at;
    sets.push(lineSet(path([[x,q3],[x,hi]]).concat(GAP, path([[x,q1],[x,lo]])), g.line, 1.2, { order: 3 }));
    sets.push(lineSet(path([[x-h,q1],[x+h,q1],[x+h,q3],[x-h,q3],[x-h,q1]]), g.line, 1.2, { order: 3 }));
    sets.push(lineSet(path([[x-h,med],[x+h,med]]), g.line, 2.2, { order: 2 }));
    sets.push(dotSet(path(g.pts), g.dot, 3.4));
  }
  const tickCfg = { padding: 5, autoSkip: false, color: INK, font: font(17) };
  const grid = { color: "#dcd9d4", lineWidth: 1.4, drawTicks: false };
  const y: any = { type: "linear", min: o.yr[0], max: o.yr[1], grid, border: { display: false },
    afterBuildTicks: (s: any) => { s.ticks = o.yt.map(value => ({ value })); } };
  const scales: any = {
    x: { type: "linear", min: o.xr[0], max: o.xr[1], grid, border: { display: false },
      ticks: { ...tickCfg, padding: 7, maxRotation: 0, callback: (v: number) => o.cats[Math.round(v) - 1] },
      afterBuildTicks: (s: any) => { s.ticks = o.cats.map((_, i) => ({ value: i + 1 })); }, afterFit: fitH(labH) },
  };
  if (o.lab) {
    scales.y = { ...y, ticks: { display: false }, afterFit: fitW(0) };
    scales.yLab = { type: "linear", axis: "y", position: "left", min: o.lab.yr[0], max: o.lab.yr[1], grid: { display: false, drawTicks: false }, border: { display: false },
      ticks: { ...tickCfg, labelOffset: 1, callback: (v: number) => o.fmt(v) }, afterBuildTicks: (s: any) => { s.ticks = o.lab!.yt.map(value => ({ value })); }, afterFit: fitW(labW) };
  } else {
    scales.y = { ...y, ticks: { ...tickCfg, labelOffset: (o.shift || 0) + 1, callback: (v: number) => o.fmt(v) }, afterFit: fitW(labW) };
  }
  return { left: o.l - labW, top: o.t - pad, width: o.r - o.l + labW + pad, height: o.b - o.t + labH + pad, config: {
    type: "scatter", data: { datasets: sets }, plugins: [framePlugin("#c9c6c0", 2)],
    options: { ...base, layout: flatLayout({ top: pad, right: pad, left: 0, bottom: 0 }), scales } } };
}

const RED = "#fb2a2a", NAVY = "#3a3a9e", RDOT = "#ef1b1b", BDOT = "#24248f", GREEN = "#6fbb22";
const cats2 = [["B6"],["I/St"]];
const two = (b6b: number[], b6p: number[][], ib: number[], ip: number[][]): BoxGroup[] => [
  { box: b6b, pts: b6p, at: 1, line: RED, dot: RDOT }, { box: ib, pts: ip, at: 2, line: NAVY, dot: BDOT } ];
const dec = (n: number) => (v: number) => v.toFixed(n);
const kilo = (v: number) => `${v / 1000}x10³`;

function scatterPanel(l: number, t: number, r: number, b: number, xr: number[], yr: number[], sets: any[], notes: Note[]): Spec {
  const pad = 1;
  return { left: l - pad, top: t - pad, width: r - l + 2 * pad, height: b - t + 2 * pad, config: {
    type: "scatter", data: { datasets: sets }, plugins: [notesPlugin(notes), framePlugin("#222", 1.6)],
    options: { ...base, layout: flatLayout(pad), scales: { x: hiddenLinear(xr[0], xr[1]), y: hiddenLinear(yr[0], yr[1], true) } } } };
}
const toNotes = (rows: [string,number,number][], c: string): Note[] => rows.map(([t,x,y]) => ({ t, x, y, c, s: 16.5 }));

function overlaySpec(): Spec {
  const sets: any[] = [];
  const conv = (u: number[], x: number, y: number) => ({ x: u[0] + x / u[2], y: u[1] + y / u[3] });
  const edgeData: any[] = [];
  const byKind: Record<string, { pts: any[]; r: number[] }> = {};
  const addNode = (u: number[], n: any[]) => {
    const k = n[2];
    (byKind[k] = byKind[k] || { pts: [], r: [] });
    byKind[k].pts.push(conv(u, n[0], n[1]));
    byKind[k].r.push(n[3] || (k === "g" || k === "l" ? 7 : 6));
  };
  for (const net of networks) {
    const pairs: number[][] = [...(net.e || [])];
    for (const c of net.c || []) for (let i = 0; i < c.length; i++) for (let j = i + 1; j < c.length; j++) pairs.push([c[i], c[j]]);
    for (const [a, b] of pairs) edgeData.push(conv(net.u, net.n[a][0], net.n[a][1]), conv(net.u, net.n[b][0], net.n[b][1]), GAP);
    for (const n of net.n) addNode(net.u, n);
  }
  for (const m of legendMarks) addNode(U8, m);
  sets.push(lineSet(edgeData, "#8c8c8c", 1));
  for (const k of Object.keys(byKind)) sets.push(dotSet(byKind[k].pts, kindColor[k], byKind[k].r, k === "g" || k === "l" ? "triangle" : "circle"));
  // significance bars
  const sig: any[] = [];
  for (const [a, b, y] of sigBars) sig.push({ x: a, y }, { x: b, y }, GAP);
  sets.push(lineSet(sig, "#222", 1.1));
  const rect = (l: number, t: number, r: number, b: number) => path([[l,t],[r,t],[r,b],[l,b],[l,t]]).concat(GAP);
  sets.push(lineSet(redBoxes.flatMap(([l,t,r,b]) => rect(l,t,r,b)), "#fb0d0d", 2, { order: 0 }));
  sets.push(lineSet(greenBoxes.flatMap(([l,t,r,b]) => rect(l,t,r,b)), "#1d9b34", 3, { borderDash: [8, 6], order: 0 }));
  // braces of the gene groups
  const xL = 306, xM = 312.3, xT = 319.3;
  const q = (p0: number[], c: number[], p1: number[]) => [0, 0.25, 0.5, 0.75, 1].map(t => [(1-t)*(1-t)*p0[0]+2*t*(1-t)*c[0]+t*t*p1[0], (1-t)*(1-t)*p0[1]+2*t*(1-t)*c[1]+t*t*p1[1]]);
  const brace: any[] = [];
  for (const [y0, ym, y1] of braces) {
    const pts = [...q([xL,y0],[xM,y0],[xM,y0+8]), ...q([xM,ym-6],[xM,ym],[xT,ym]), ...q([xT,ym],[xM,ym],[xM,ym+6]), ...q([xM,y1-8],[xM,y1],[xL,y1])];
    brace.push(...path(pts), GAP);
  }
  sets.push(lineSet(brace, "#666", 1));
  // axis stem of the logos, and the faint rule at the right of the I/St frame
  const stems: any[] = [];
  for (const [, x0, , y0, y1] of logoTable) stems.push({ x: x0 - 1.5, y: y0 - 2 }, { x: x0 - 1.5, y: y1 + 1 }, GAP);
  sets.push(lineSet(stems, "#000", 2.6));
  sets.push(lineSet(path([[1371,1148],[1371,1789]]), "#e8e8ee", 1, { order: 5 }));
  return { left: 0, top: 0, width: 1418, height: 1789, config: {
    type: "scatter", data: { datasets: sets }, plugins: [notesPlugin(pageNotes), logoPlugin],
    options: { ...base, layout: flatLayout(), scales: { x: hiddenLinear(0, 1418), y: hiddenLinear(0, 1789, true) } } } };
}

function allSpecs(): Spec[] {
  const specs: Spec[] = [
    heatSpec(5.5, 82.7, 231.7, 450, samplesA, genesA, rowsA, 17.4),
    heatSpec(370, 81, 234.3, 453, samplesB, genesB, rowsB, 17),
    dendroSpec(5.5, 231.7, dendroA, 16, 711, 224.5),
    dendroSpec(370, 234.3, dendroB, 30, 733, 221),
    colorbarSpec(),
    boxSpec({ l:778,t:86,r:873,b:256,xr:[0.425,2.52],yr:[0.76,0.8848],yt:[0.76,0.8,0.84,0.88],fmt:dec(2),shift:1.5,cats:cats2,groups:two(cAlphaB6Box,cAlphaB6Pts,cAlphaIStBox,cAlphaIStPts) }),
    boxSpec({ l:938,t:87.3,r:1038.6,b:256.7,xr:[0.378,2.536],yr:[0.6869,0.8295],yt:[0.72,0.76,0.8],fmt:dec(2),shift:-2,cats:cats2,groups:two(cBetaB6Box,cBetaB6Pts,cBetaIStBox,cBetaIStPts) }),
    boxSpec({ l:1136.5,t:86,r:1234.4,b:255.7,xr:[0.46,2.54],yr:[4794,9784],yt:[5000,6000,7000,8000,9000],fmt:kilo,cats:cats2,groups:two(dAlphaB6Box,dAlphaB6Pts,dAlphaIStBox,dAlphaIStPts) }),
    boxSpec({ l:1311,t:86,r:1408,b:255.7,xr:[0.49,2.47],yr:[5980,15960],yt:[8000,10000,12000,14000],fmt:kilo,cats:cats2,groups:two(dBetaB6Box,dBetaB6Pts,dBetaIStBox,dBetaIStPts) }),
    boxSpec({ l:778.8,t:370.7,r:874.8,b:541,xr:[0.45,2.53],yr:[1.0517,1.0725],yt:[1.055,1.06,1.065,1.07],fmt:dec(3),cats:cats2,lab:{yr:[1.04712,1.07672],yt:[1.055,1.06,1.065,1.07]},groups:two(eAlphaB6Box,eAlphaB6Pts,eAlphaIStBox,eAlphaIStPts) }),
    boxSpec({ l:938.8,t:370.7,r:1037.6,b:541,xr:[0.444,2.56],yr:[1.0136,1.0411],yt:[1.015,1.02,1.025,1.03,1.035,1.04],fmt:dec(3),cats:cats2,groups:two(eBetaB6Box,eBetaB6Pts,eBetaIStBox,eBetaIStPts) }),
    boxSpec({ l:1180.2,t:370.7,r:1316.2,b:540,xr:[0.496,3.4],yr:[-3.2,67.4],yt:[0,20,40,60],fmt:dec(0),shift:1.2,cats:[["B6"],["I/St"],["B6 vs","I/St"]],groups:[
      { box:fB6Box,pts:fB6Pts,at:1,line:RED,dot:RDOT },{ box:fIStBox,pts:fIStPts,at:2,line:NAVY,dot:BDOT },{ box:fBothBox,pts:fBothPts,at:3,line:GREEN,dot:GREEN } ] }),
    scatterPanel(29, 1164, 655.7, 1770, [67,1512], [58,1520], [
      dotSet(path(b6Red), "#f5310f", 4),
      dotSet(path(b6Yellow), "#f5dd10", 4, "circle", { order: 2 }),
    ], [{ t:"B6",x:103,y:107,s:25 }, ...toNotes(b6Labels, INK), ...toNotes(b6RedLabels, "#ff2010")]),
    scatterPanel(772, 1164, 1400, 1770, [74,1527], [58,1520], [
      dotSet(path([[413,783]]), "#ffffff", 3, "circle", { order: 0 }),
      dotSet(path(istDark), "#1e5fae", 4.2),
      dotSet(path(istTeal), "#1bacc8", 4.2, "circle", { order: 2 }),
    ], [{ t:"I/St",x:131,y:110,s:25 }, ...toNotes(istLabels, INK)]),
    overlaySpec(),
  ];
  return specs;
}

function ChartCanvas({ spec }: { spec: Spec }) {
  const ref = useRef<HTMLCanvasElement>(null);
  useEffect(() => {
    const chart = new Chart(ref.current as HTMLCanvasElement, spec.config);
    return () => chart.destroy();
  }, [spec]);
  return <canvas ref={ref} width={Math.ceil(spec.width)} height={Math.ceil(spec.height)}
    style={{ position: "absolute", left: spec.left, top: spec.top, display: "block" }} />;
}

const SPECS = allSpecs();

export default function App() {
  return (
    <div style={{ position: "absolute", left: 0, top: 0, width: 1418, height: 1789, background: "#fff", overflow: "hidden" }}>
      {SPECS.map((s, i) => <ChartCanvas key={i} spec={s} />)}
    </div>
  );
}
